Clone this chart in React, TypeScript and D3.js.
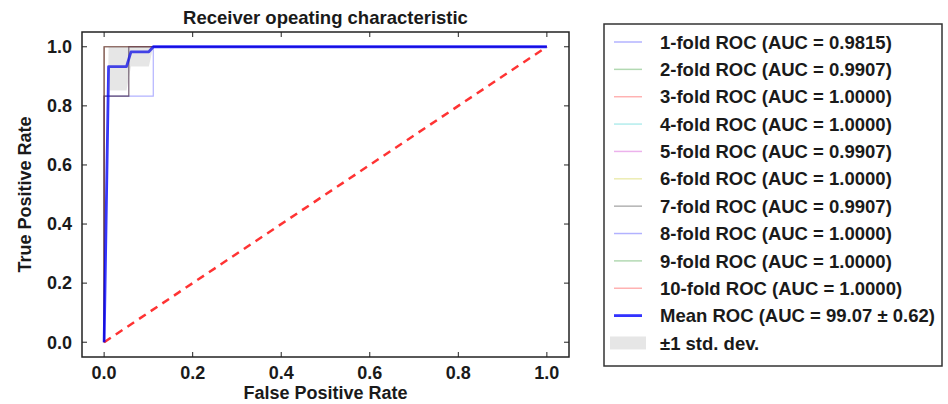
import React from "react";
import * as d3 from "d3";

const foldNames = ["1-fold", "2-fold", "3-fold", "4-fold", "5-fold", "6-fold", "7-fold", "8-fold", "9-fold", "10-fold"];
const foldAUC = ["0.9815", "0.9907", "1.0000", "1.0000", "0.9907", "1.0000", "0.9907", "1.0000", "1.0000", "1.0000"];
const foldColors = ["#0000ff", "#008000", "#ff0000", "#00bfbf", "#bf00bf", "#bfbf00", "#000000", "#0000ff", "#008000", "#ff0000"];

const foldFPR: number[][] = [
  [0, 0, 0.111, 0.111, 1],
  [0, 0, 0.0556, 0.0556, 1],
  [0, 0, 1],
  [0, 0, 1],
  [0, 0, 0.0556, 0.0556, 1],
  [0, 0, 1],
  [0, 0, 0.0556, 0.0556, 1],
  [0, 0, 1],
  [0, 0, 1],
  [0, 0, 1],
];
const foldTPR: number[][] = [
  [0, 0.833, 0.833, 1, 1],
  [0, 0.833, 0.833, 1, 1],
  [0, 1, 1],
  [0, 1, 1],
  [0, 0.833, 0.833, 1, 1],
  [0, 1, 1],
  [0, 0.833, 0.833, 1, 1],
  [0, 1, 1],
  [0, 1, 1],
  [0, 1, 1],
];

const meanFPR = [0, 0.0101, 0.0505, 0.0606, 0.101, 0.111, 1.0];
const meanTPR = [0, 0.933, 0.933, 0.983, 0.983, 1.0, 1.0];
const stdUpper = [0, 1.0, 1.0, 1.0, 1.0, 1.0, 1.0];
const stdLower = [0, 0.852, 0.852, 0.933, 0.933, 1.0, 1.0];

const xTicks = [0, 0.2, 0.4, 0.6, 0.8, 1.0];
const yTicks = [0, 0.2, 0.4, 0.6, 0.8, 1.0];

const meanLabel = "Mean ROC (AUC = 99.07 \u00b1 0.62)";
const stdLabel = "\u00b11 std. dev.";
const title = "Receiver opeating characteristic";
const xLabel = "False Positive Rate";
const yLabel = "True Positive Rate";

const W = 948;
const H = 404;
const L = 82, R = 569, T = 32, B = 357;
const FONT = "'Liberation Sans', Arial, Helvetica, sans-serif";
const TXT = "#1a1a1a";

export default function App() {
  const x = d3.scaleLinear().domain([-0.05, 1.05]).range([L, R]);
  const y = d3.scaleLinear().domain([-0.05, 1.05]).range([B, T]);
  const fmt = d3.format(".1f");

  const line = (xs: number[], ys: number[]) =>
    d3.line<number>().x((_, i) => x(xs[i])).y((_, i) => y(ys[i]))(xs.map((_, i) => i)) || "";

  const band =
    d3
      .area<number>()
      .x((i) => x(meanFPR[i]))
      .y0((i) => y(stdLower[i]))
      .y1((i) => y(stdUpper[i]))(meanFPR.map((_, i) => i)) || "";

  const tickLen = 5;

  const legX0 = 604, legY0 = 24, legX1 = 942, legY1 = 366;
  const rowY = (i: number) => 42 + i * 27.36;
  const legendItems = [
    ...foldNames.map((n, i) => ({ label: `${n} ROC (AUC = ${foldAUC[i]})`, color: foldColors[i], kind: "fold" })),
    { label: meanLabel, color: "#0000ff", kind: "mean" },
    { label: stdLabel, color: "grey", kind: "std" },
  ];

  return (
    <svg width={W} height={H} style={{ position: "absolute", left: 0, top: 0, background: "#fff" }} fontFamily={FONT}>
      <defs>
        <clipPath id="plotclip">
          <rect x={L} y={T} width={R - L} height={B - T} />
        </clipPath>
      </defs>
      <rect x={0} y={0} width={W} height={H} fill="#fff" />
      <g clipPath="url(#plotclip)">
        {foldFPR.map((xs, i) => (
          <path key={i} d={line(xs, foldTPR[i])} fill="none" stroke={foldColors[i]} strokeOpacity={0.3} strokeWidth={1.2} />
        ))}
        <path d={line([0, 1], [0, 1])} fill="none" stroke="#ff0000" strokeOpacity={0.8} strokeWidth={2.5} strokeDasharray="8,6" />
        <path d={line(meanFPR, meanTPR)} fill="none" stroke="#0000ff" strokeOpacity={0.8} strokeWidth={2.8} strokeLinejoin="round" />
        <path d={band} fill="grey" fillOpacity={0.2} stroke="none" />
      </g>
      <rect x={L} y={T} width={R - L} height={B - T} fill="none" stroke="#222" strokeWidth={1.5} />
      {xTicks.map((t) => (
        <g key={"x" + t}>
          <line x1={x(t)} x2={x(t)} y1={B} y2={B - tickLen} stroke="#222" strokeWidth={1} />
          <line x1={x(t)} x2={x(t)} y1={T} y2={T + tickLen} stroke="#222" strokeWidth={1} />
          <text x={x(t)} y={379} textAnchor="middle" fontSize={18} fontWeight="bold" fill={TXT}>
            {fmt(t)}
          </text>
        </g>
      ))}
      {yTicks.map((t) => (
        <g key={"y" + t}>
          <line x1={L} x2={L + tickLen} y1={y(t)} y2={y(t)} stroke="#222" strokeWidth={1} />
          <line x1={R} x2={R - tickLen} y1={y(t)} y2={y(t)} stroke="#222" strokeWidth={1} />
          <text x={72} y={y(t)} dy="0.35em" textAnchor="end" fontSize={18} fontWeight="bold" fill={TXT}>
            {fmt(t)}
          </text>
        </g>
      ))}
      <text x={(L + R) / 2} y={24} textAnchor="middle" fontSize={18.5} fontWeight="bold" fill={TXT}>
        {title}
      </text>
      <text x={(L + R) / 2} y={399} textAnchor="middle" fontSize={18} fontWeight="bold" fill={TXT}>
        {xLabel}
      </text>
      <text
        transform={`translate(31,${(T + B) / 2}) rotate(-90)`}
        textAnchor="middle"
        fontSize={18}
        fontWeight="bold"
        fill={TXT}
      >
        {yLabel}
      </text>
      <rect x={legX0} y={legY0} width={legX1 - legX0} height={legY1 - legY0} fill="#fff" stroke="#333" strokeWidth={1.5} />
      {legendItems.map((it, i) => (
        <g key={"l" + i}>
          {it.kind === "fold" && (
            <line x1={614} x2={642} y1={rowY(i)} y2={rowY(i)} stroke={it.color} strokeOpacity={0.3} strokeWidth={1.5} />
          )}
          {it.kind === "mean" && (
            <line x1={614} x2={642} y1={rowY(i)} y2={rowY(i)} stroke={it.color} strokeOpacity={0.8} strokeWidth={2.8} />
          )}
          {it.kind === "std" && (
            <rect x={610} y={rowY(i) - 6.5} width={36} height={13} fill="grey" fillOpacity={0.2} />
          )}
          <text x={660} y={rowY(i)} dy="0.36em" fontSize={18.5} fontWeight="bold" fill={TXT}>
            {it.label}
          </text>
        </g>
      ))}
    </svg>
  );
}
